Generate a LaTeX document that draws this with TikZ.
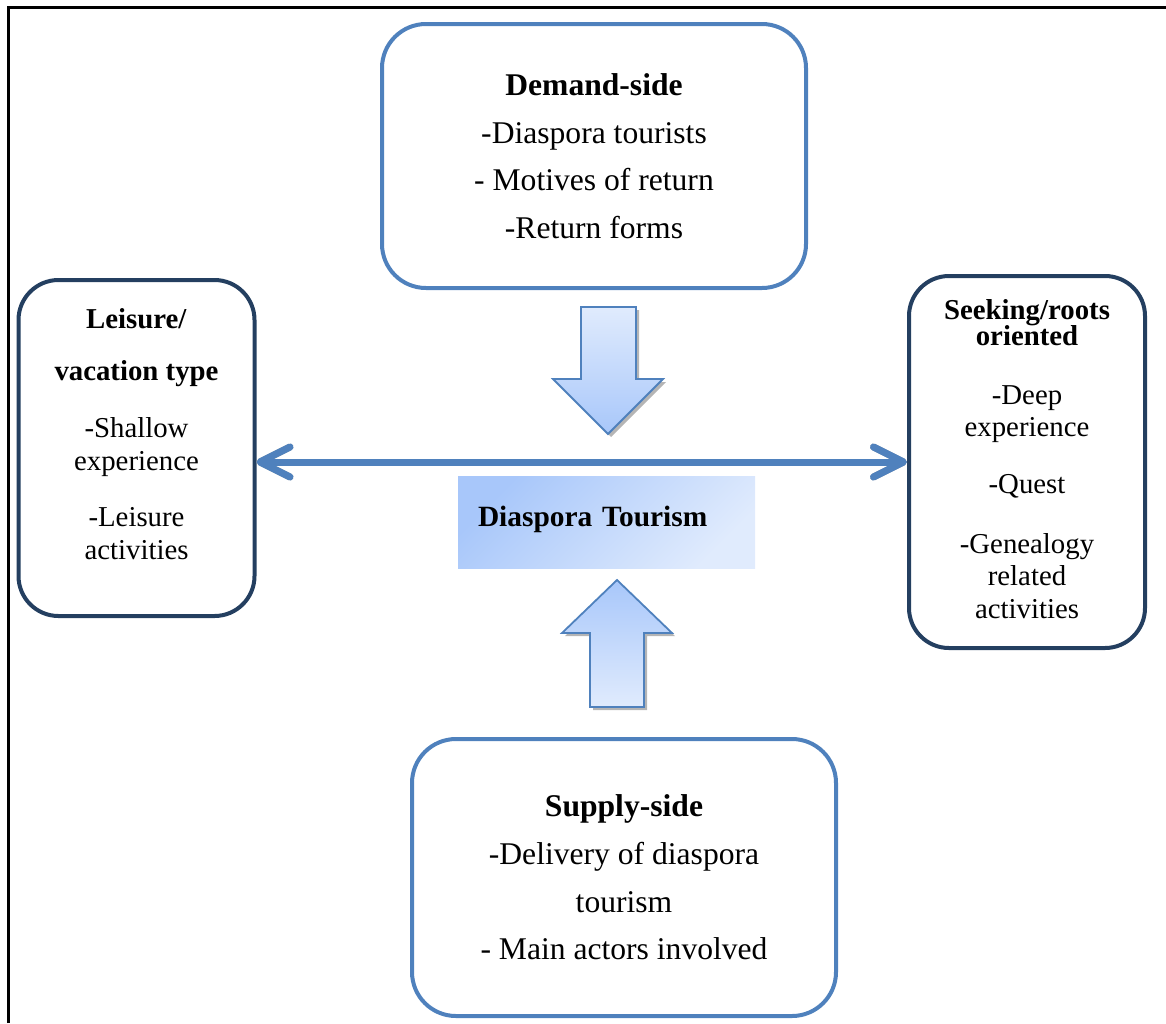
\documentclass[tikz,border=0pt]{standalone}
\usepackage{fontspec}
\setmainfont{Liberation Serif}
\usetikzlibrary{arrows.meta}
\definecolor{boxblue}{HTML}{4F81BD}
\definecolor{boxnavy}{HTML}{243F60}
\definecolor{lightfill}{HTML}{E0EBFD}
\definecolor{midfill}{HTML}{A8C7FA}
\definecolor{shadowgray}{HTML}{B5B5B5}
\tikzset{
  sidebox/.style={draw=boxblue, line width=2pt, rounded corners=22pt, align=center,
    font={\fontsize{15.8pt}{23.8pt}\selectfont}, minimum width=212pt},
  typebox/.style={draw=boxnavy, line width=2pt, rounded corners=20pt, align=center,
    font={\fontsize{14.4pt}{16.3pt}\selectfont}, minimum width=118pt},
  blockarrow/.style={draw=boxblue, line width=0.9pt},
  arrowshadow/.style={fill=shadowgray, draw=none},
  linkarrow/.style={draw=boxblue, line width=3.5pt, {Straight Barb[round,length=15pt,width=15pt]}-{Straight Barb[round,length=15pt,width=15pt]}},
  linkshadow/.style={draw=shadowgray, line width=3.5pt, {Straight Barb[round,length=15pt,width=15pt]}-{Straight Barb[round,length=15pt,width=15pt]}}
}
\begin{document}
\begin{tikzpicture}[x=0.5pt,y=-0.5pt]
        \useasboundingbox (0,0) rectangle (1166,1023);
        % Frame
        \draw[line width=1.5pt] (8,1023) -- (8,7) -- (1166,7);

        % Boxes
        \node[sidebox, minimum height=132pt] (demand) at (594,156)
          {\textbf{Demand-side}\\-Diaspora tourists\\- Motives of return\\-Return forms};
        \node[sidebox, minimum height=138.5pt] (supply) at (624,877.5)
          {\textbf{Supply-side}\\-Delivery of diaspora\\tourism\\- Main actors involved};
        \node[typebox, minimum height=168pt] (leisure) at (136.5,448)
          {\textbf{Leisure/}\\[9.5pt]\textbf{vacation type}\\[12.5pt]-Shallow\\experience\\[12pt]-Leisure\\activities\\[-2.3pt]\mbox{}};
        \node[typebox, minimum height=186pt] (roots) at (1027,462)
          {\textbf{Seeking/roots}\\[-3pt]\textbf{oriented}\\[13pt]-Deep\\experience\\[12pt]-Quest\\[13.5pt]-Genealogy\\related\\activities\\[-13pt]\mbox{}};

        % Centre
        \node[top color=midfill, bottom color=lightfill, shading angle=45,
          minimum width=148.5pt, minimum height=46pt, text width=128.5pt, inner xsep=10pt,
          align=left, text height=11pt, text depth=7pt,
          font={\fontsize{14.7pt}{17pt}\selectfont\bfseries}] (centre) at (606.5,522) {Diaspora Tourism};

        % Double arrow
        \draw[linkshadow, xshift=1pt, yshift=-2pt] (leisure.east |- roots.west) -- (roots.west);
        \draw[linkarrow] (leisure.east |- roots.west) -- (roots.west);

        % Down arrow
        \fill[arrowshadow, xshift=1.5pt, yshift=-1.5pt] (581,307) -- (636,307) -- (636,379) -- (663,379) -- (608,434) -- (553,379) -- (581,379) -- cycle;
        \draw[blockarrow, top color=lightfill, bottom color=midfill] (581,307) -- (636,307) -- (636,379) -- (663,379) -- (608,434) -- (553,379) -- (581,379) -- cycle;

        % Up arrow
        \fill[arrowshadow, xshift=1.5pt, yshift=-1.5pt] (590,707) -- (644,707) -- (644,633) -- (672,633) -- (617,580) -- (562,633) -- (590,633) -- cycle;
        \draw[blockarrow, top color=midfill, bottom color=lightfill] (590,707) -- (644,707) -- (644,633) -- (672,633) -- (617,580) -- (562,633) -- (590,633) -- cycle;
      \end{tikzpicture}
\end{document}
